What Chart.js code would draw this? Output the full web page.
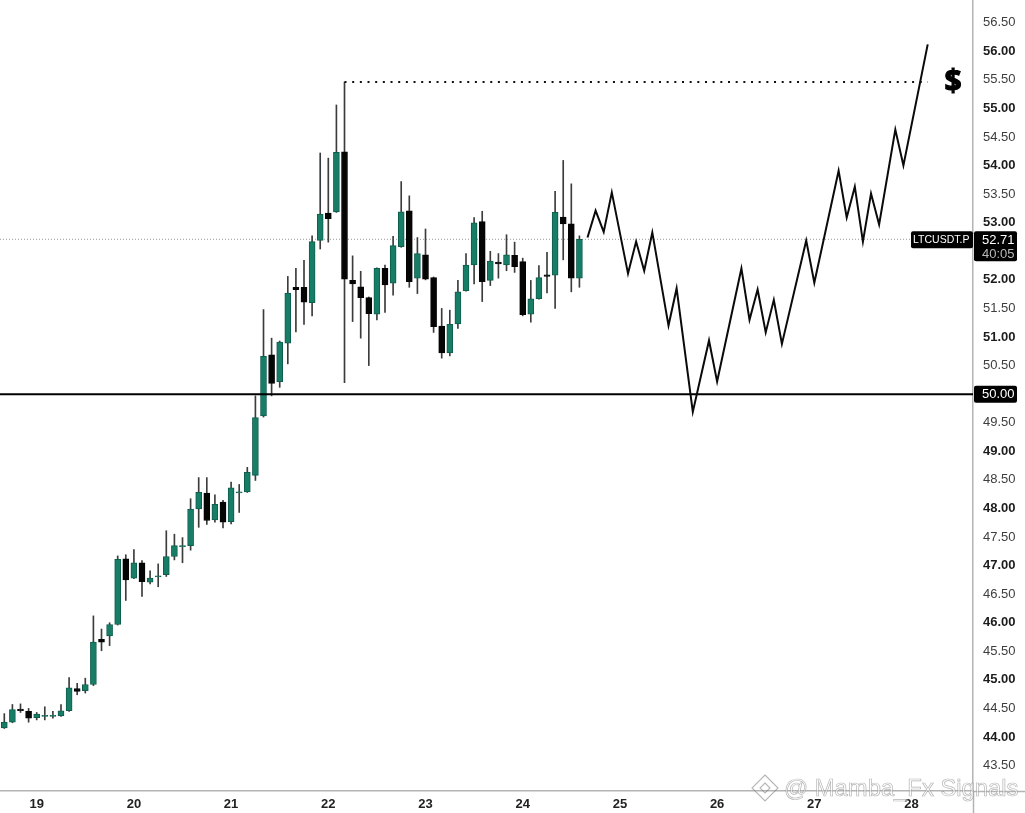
<!DOCTYPE html>
<html>
<head>
<meta charset="utf-8">
<title>LTCUSDT.P</title>
<script src="https://cdn.jsdelivr.net/npm/chart.js@4"></script>
<style>
  html, body { margin: 0; padding: 0; background: #fff; }
  canvas { display: block; }
</style>
</head>
<body>
<canvas id="chart" width="1025" height="813"></canvas>
<script>
'use strict';

// 2h candles, index 0 is the first one on the left
var opens = [44.16, 44.26, 44.49, 44.45, 44.34, 44.36, 44.36, 44.37, 44.46, 44.85, 44.81, 44.92,
  45.71, 45.77, 45.97, 47.12, 46.78, 47.05, 46.71, 46.80, 46.84, 47.16, 47.33, 47.35,
  47.99, 48.27, 47.80, 48.11, 47.77, 48.27, 48.29, 48.58, 49.62, 50.69, 50.22, 50.89,
  51.87, 51.87, 51.60, 52.69, 53.17, 53.19, 54.24, 51.99, 51.88, 51.69, 51.40, 52.20,
  51.94, 52.58, 53.21, 52.03, 52.44, 52.04, 51.19, 50.72, 51.23, 51.81, 52.26, 53.02,
  51.99, 52.31, 52.26, 52.43, 52.32, 51.40, 51.67, 52.09, 52.08, 53.10, 52.98, 52.03];
var highs = [44.41, 44.57, 44.58, 44.50, 44.43, 44.53, 44.45, 44.57, 45.04, 44.94, 45.03, 46.12,
  45.89, 46.00, 47.17, 47.19, 47.28, 47.09, 46.91, 47.03, 47.61, 47.55, 47.49, 48.17,
  48.54, 48.54, 48.24, 48.14, 48.46, 48.42, 48.72, 49.97, 51.48, 50.98, 50.93, 52.06,
  52.20, 52.34, 52.77, 54.22, 54.13, 55.06, 55.46, 52.42, 52.15, 51.70, 52.21, 52.26,
  52.76, 53.72, 53.47, 52.74, 52.89, 52.05, 51.50, 51.47, 51.99, 52.46, 53.09, 53.20,
  52.50, 52.46, 52.79, 52.66, 52.38, 51.99, 52.25, 52.48, 53.55, 54.09, 53.68, 52.77];
var lows = [44.15, 44.25, 44.43, 44.26, 44.30, 44.30, 44.33, 44.36, 44.45, 44.74, 44.77, 44.90,
  45.51, 45.60, 45.96, 46.39, 46.77, 46.46, 46.68, 46.63, 46.81, 47.10, 47.05, 47.27,
  47.67, 47.72, 47.76, 47.66, 47.73, 47.93, 48.28, 48.49, 49.60, 49.97, 50.12, 50.53,
  51.09, 51.22, 51.37, 52.54, 52.66, 53.18, 50.20, 51.27, 50.98, 50.50, 51.30, 51.43,
  51.73, 52.57, 51.87, 51.76, 52.00, 51.08, 50.63, 50.67, 51.15, 51.80, 51.93, 51.62,
  51.90, 52.03, 52.16, 52.13, 51.37, 51.26, 51.66, 51.77, 51.50, 52.35, 51.79, 51.87];
var closes = [44.26, 44.48, 44.46, 44.33, 44.40, 44.38, 44.38, 44.46, 44.86, 44.80, 44.92, 45.66,
  45.66, 45.97, 47.11, 46.75, 47.05, 46.72, 46.78, 46.82, 47.16, 47.35, 47.35, 47.99,
  48.28, 47.79, 48.07, 47.76, 48.36, 48.29, 48.63, 49.59, 50.66, 50.19, 50.91, 51.77,
  51.83, 51.61, 52.67, 53.15, 53.07, 54.23, 52.01, 51.93, 51.69, 51.41, 52.20, 51.91,
  52.60, 53.19, 51.97, 52.46, 52.01, 51.18, 50.72, 51.22, 51.79, 52.26, 53.00, 51.97,
  52.33, 52.28, 52.44, 52.23, 51.39, 51.67, 52.04, 52.06, 53.18, 52.98, 52.03, 52.71];

// hand drawn projection
var pathIndex = [72, 73, 74, 75, 77, 78, 79, 80, 82, 83, 85, 87, 88, 91, 92, 93, 94, 95, 96,
  99, 100, 103, 104, 105, 106, 107, 108, 110, 111, 114];
var pathPrice = [52.74, 53.21, 52.84, 53.53, 52.11, 52.67, 52.16, 52.83, 51.20, 51.85, 49.69,
  50.94, 50.22, 52.20, 51.30, 51.83, 51.08, 51.65, 50.88, 52.69, 51.95, 53.91, 53.09, 53.63,
  52.67, 53.51, 52.97, 54.63, 54.00, 56.12];

var dayTicks = [4, 16, 28, 40, 52, 64, 76, 88, 100, 112];
var dayLabels = ['19', '20', '21', '22', '23', '24', '25', '26', '27', '28'];
var priceTicks = [43.5, 44, 44.5, 45, 45.5, 46, 46.5, 47, 47.5, 48, 48.5, 49, 49.5, 50, 50.5,
  51, 51.5, 52, 52.5, 53, 53.5, 54, 54.5, 55, 55.5, 56, 56.5];

var lastPrice = 52.71;
var levelPrice = 50;
var targetPrice = 55.46;
var targetFrom = 42;
var targetTo = 114;
var xMin = -0.53;
var xMax = 119.59;

var GREEN = '#177d66';
var GREEN_EDGE = '#0e5e4c';
var BLACK = '#050505';

function isUp(i) {
  return closes[i] >= opens[i];
}

function isWhole(ctx) {
  return ctx.tick && ctx.tick.value % 1 === 0;
}

var tagsPlugin = {
  id: 'tags',
  afterDraw: function(chart) {
    var ctx = chart.ctx;
    var area = chart.chartArea;
    var yScale = chart.scales.y;
    var y;

    ctx.save();

    // axis lines carry on past the plot
    ctx.strokeStyle = '#b4b4b4';
    ctx.lineWidth = 1.5;
    ctx.beginPath();
    ctx.moveTo(area.right, area.bottom + 0.5);
    ctx.lineTo(chart.width, area.bottom + 0.5);
    ctx.moveTo(area.right + 0.5, area.bottom);
    ctx.lineTo(area.right + 0.5, chart.height);
    ctx.stroke();

    // last price
    y = yScale.getPixelForValue(lastPrice);
    ctx.fillStyle = '#000';
    ctx.beginPath();
    ctx.roundRect(area.right - 62, y - 8, 62, 17, 2);
    ctx.fill();
    ctx.beginPath();
    ctx.roundRect(area.right + 1, y - 8, 43, 30, 2);
    ctx.fill();
    ctx.textBaseline = 'middle';
    ctx.textAlign = 'left';
    ctx.font = '10.5px "Liberation Sans"';
    ctx.fillStyle = '#fff';
    ctx.fillText('LTCUSDT.P', area.right - 60, y + 0.5);
    ctx.font = '13px "Liberation Sans"';
    ctx.fillText('52.71', area.right + 9, y + 1);
    ctx.fillStyle = '#b8b8b8';
    ctx.fillText('40:05', area.right + 9, y + 15);

    // level
    y = yScale.getPixelForValue(levelPrice);
    ctx.fillStyle = '#000';
    ctx.beginPath();
    ctx.roundRect(area.right + 1, y - 8.5, 43, 17, 2);
    ctx.fill();
    ctx.fillStyle = '#fff';
    ctx.fillText('50.00', area.right + 9, y + 0.5);

    // $ at the target
    y = yScale.getPixelForValue(targetPrice);
    ctx.fillStyle = '#000';
    ctx.strokeStyle = '#000';
    ctx.lineWidth = 1.2;
    ctx.textAlign = 'center';
    ctx.font = 'bold 30px "Open Sans"';
    ctx.fillText('$', area.right - 20, y);
    ctx.strokeText('$', area.right - 20, y);

    // watermark
    ctx.strokeStyle = 'rgba(120, 120, 120, 0.55)';
    ctx.lineWidth = 1.1;
    ctx.beginPath();
    ctx.moveTo(765, 775);
    ctx.lineTo(778, 788);
    ctx.lineTo(765, 801);
    ctx.lineTo(752, 788);
    ctx.closePath();
    ctx.moveTo(765, 783);
    ctx.lineTo(770, 788);
    ctx.lineTo(765, 793);
    ctx.lineTo(760, 788);
    ctx.closePath();
    ctx.stroke();
    ctx.textAlign = 'left';
    ctx.font = '23.8px "Liberation Sans"';
    ctx.lineWidth = 0.7;
    ctx.fillStyle = 'rgba(255, 255, 255, 0.55)';
    ctx.fillText('@ Mamba_Fx Signals', 784, 789);
    ctx.strokeText('@ Mamba_Fx Signals', 784, 789);

    ctx.restore();
  }
};

var wickData = [];
var bodyData = [];
opens.forEach(function(open, i) {
  wickData.push({x: i, y: [lows[i], highs[i]]});
  bodyData.push({x: i, y: [open, closes[i]]});
});

var pathData = pathIndex.map(function(x, i) {
  return {x: x, y: pathPrice[i]};
});

var chart = new Chart(document.getElementById('chart').getContext('2d'), {
  type: 'bar',
  data: {
    datasets: [{
      label: 'wicks',
      data: wickData,
      backgroundColor: '#3c3c3c',
      barThickness: 1,
      grouped: false,
      order: 6
    }, {
      label: 'bodies',
      data: bodyData,
      backgroundColor: function(ctx) {
        return isUp(ctx.dataIndex) ? GREEN : BLACK;
      },
      borderColor: function(ctx) {
        return isUp(ctx.dataIndex) ? GREEN_EDGE : BLACK;
      },
      borderWidth: 1,
      borderSkipped: false,
      barThickness: 6,
      minBarLength: 1,
      grouped: false,
      order: 5
    }, {
      type: 'line',
      label: 'last price',
      data: [{x: xMin, y: lastPrice}, {x: xMax, y: lastPrice}],
      borderColor: '#9a9a9a',
      borderWidth: 1,
      borderDash: [1, 2],
      pointRadius: 0,
      order: 7
    }, {
      type: 'line',
      label: 'level',
      data: [{x: xMin, y: levelPrice}, {x: xMax, y: levelPrice}],
      borderColor: '#000',
      borderWidth: 2,
      pointRadius: 0,
      order: 3
    }, {
      type: 'line',
      label: 'target',
      data: [{x: targetFrom, y: targetPrice}, {x: targetTo, y: targetPrice}],
      borderColor: '#111',
      borderWidth: 2,
      borderDash: [2, 5.67],
      pointRadius: 0,
      order: 2
    }, {
      type: 'line',
      label: 'projection',
      data: pathData,
      borderColor: '#0a0a0a',
      borderWidth: 2,
      borderJoinStyle: 'miter',
      tension: 0,
      pointRadius: 0,
      order: 1
    }]
  },
  options: {
    responsive: false,
    animation: false,
    devicePixelRatio: 1,
    layout: {padding: 0, autoPadding: false},
    plugins: {legend: {display: false}, tooltip: {enabled: false}},
    scales: {
      x: {
        type: 'linear',
        position: 'bottom',
        min: xMin,
        max: xMax,
        offset: false,
        grid: {display: false, drawTicks: false},
        border: {color: '#b4b4b4', width: 1.5},
        afterFit: function(axis) {
          axis.height = 22;
          axis.paddingLeft = 0;
          axis.paddingRight = 0;
        },
        afterBuildTicks: function(axis) {
          axis.ticks = dayTicks.map(function(value) {
            return {value: value};
          });
        },
        ticks: {
          autoSkip: false,
          maxRotation: 0,
          padding: 6,
          color: '#222',
          font: {family: 'Liberation Sans', size: 13, weight: 'bold'},
          callback: function(value) {
            return dayLabels[dayTicks.indexOf(value)];
          }
        }
      },
      y: {
        type: 'linear',
        position: 'right',
        min: 43.056,
        max: 56.897,
        grid: {display: false, drawTicks: false},
        border: {color: '#b4b4b4', width: 1.5},
        afterFit: function(axis) {
          axis.width = 52;
          axis.paddingTop = 0;
          axis.paddingBottom = 0;
        },
        afterBuildTicks: function(axis) {
          axis.ticks = priceTicks.map(function(value) {
            return {value: value};
          });
        },
        ticks: {
          autoSkip: false,
          padding: 10,
          color: function(ctx) {
            return isWhole(ctx) ? '#1c1c1c' : '#3e3e3e';
          },
          font: function(ctx) {
            return {
              family: 'Liberation Sans',
              size: 13,
              weight: isWhole(ctx) ? 'bold' : 'normal'
            };
          },
          callback: function(value) {
            return value.toFixed(2);
          }
        }
      }
    }
  },
  plugins: [tagsPlugin]
});
</script>
</body>
</html>
